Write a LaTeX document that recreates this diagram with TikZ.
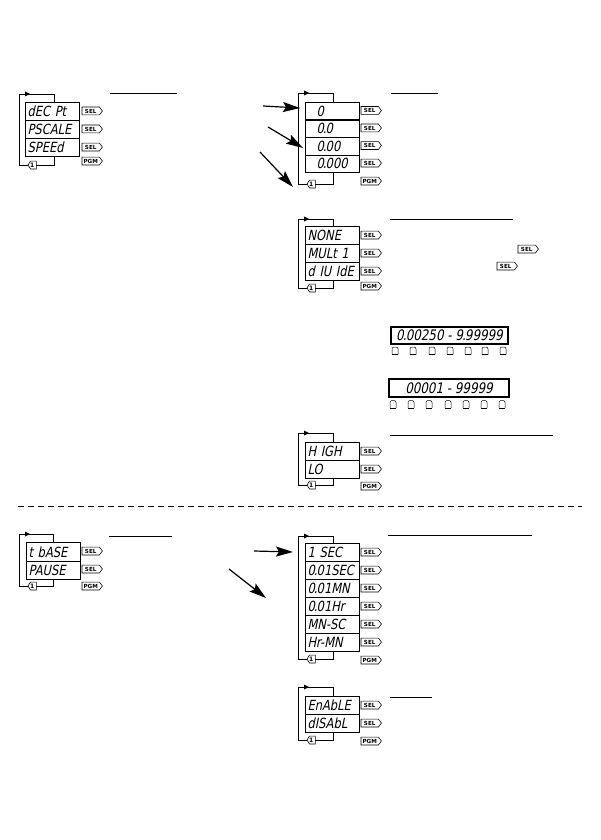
\documentclass[tikz,border=0pt]{standalone}
\usepackage{fontspec}
\usetikzlibrary{arrows.meta}
\newfontfamily\segfont{DejaVu Sans}[FakeSlant=0.2,FakeStretch=0.82]
\newfontfamily\tagfont{DejaVu Sans}
\newcommand\dpt{\kern-0.9pt.\kern-0.9pt}
\tikzset{
  disprow/.style={draw, line width=1.1pt, anchor=north west, minimum height=#1,
    text width=50pt, inner xsep=2pt, inner ysep=0pt, align=left,
    font=\segfont\fontsize{14}{15}\selectfont},
  disprow/.default=18pt,
  numdisp/.style={draw, line width=1.1pt, inner sep=0pt,
    font=\segfont\fontsize{14.5}{16}\selectfont},
  seltagstyle/.style={inner sep=0pt, minimum width=17pt, minimum height=7.5pt, anchor=west,
    font=\tagfont\bfseries\fontsize{5.6}{6}\selectfont},
  onetagstyle/.style={inner sep=0pt, minimum width=8pt, minimum height=7.5pt, anchor=west,
    font=\tagfont\bfseries\fontsize{6}{6}\selectfont},
  tagline/.style={draw, line width=0.6pt},
  loopline/.style={line width=0.9pt},
  titleline/.style={line width=0.9pt},
  bigarrow/.style={line width=1.2pt, -{Stealth[length=17pt,width=10pt,inset=3pt]}},
  btn/.style={line width=0.5pt}
}
\newcommand\SelTag[4]{%
  \node[seltagstyle] (#1) at (#2,#3) {#4};
  \draw[tagline] (#1.north west) -- (#1.north east) -- ([xshift=3pt]#1.east) -- (#1.south east) -- (#1.south west) -- cycle;}
\newcommand\MenuLoop[7]{% prefix, lx, rx, topy, boxtop, boxbot, boty
  \node[onetagstyle] (#1one) at (#2+9,#7) {1};
  \draw[tagline] (#1one.north east) -- ([xshift=2.5pt]#1one.north west) -- (#1one.west) -- ([xshift=2.5pt]#1one.south west) -- (#1one.south east) -- cycle;
  \draw[loopline] (#1one.west) -- (#2,#7) -- (#2,#4) -- (#3,#4) -- (#3,#5);
  \draw[loopline] (#3,#6) -- (#3,#7) -- (#1one.east);
  \fill (#2+6,#4-2.5) -- (#2+11,#4) -- (#2+6,#4+2.5) -- cycle;}
\newcommand\Btn[2]{%
  \draw[btn, rounded corners=2pt] (#1-3,#2+7.5) -- (#1-3,#2) -- (#1+3,#2) -- (#1+3,#2+7.5);
  \draw[btn] (#1-3,#2+7.5) -- (#1+3,#2+7.5);}
\begin{document}
\begin{tikzpicture}[x=1pt,y=-1pt]
\useasboundingbox (0,0) rectangle (600,840);
\fill[white] (0,0) rectangle (600,840);

% ---------- top-left menu ----------
\MenuLoop{tl}{19}{54}{94}{102}{156}{165}
\node[disprow] (tl1) at (25,102) {dEC Pt};
\node[disprow] (tl2) at (25,120) {PSCALE};
\node[disprow] (tl3) at (25,138) {SPEEd};
\SelTag{tls1}{82}{111}{SEL}
\SelTag{tls2}{82}{129}{SEL}
\SelTag{tls3}{82}{147}{SEL}
\SelTag{tlp}{82}{161}{PGM}
\coordinate (tlt1) at (110,93); \coordinate (tlt2) at (177,93);
\draw[titleline] (tlt1) -- (tlt2);

% ---------- decimal point menu ----------
\MenuLoop{tr}{298}{333}{93}{102}{172}{184}
\node[disprow=17.5pt] (tr1) at (305,102) {\hspace{9pt}0};
\node[disprow=17.5pt] (tr2) at (305,119.5) {\hspace{9pt}0\dpt0};
\node[disprow=17.5pt] (tr3) at (305,137) {\hspace{9pt}0\dpt00};
\node[disprow=17.5pt] (tr4) at (305,154.5) {\hspace{9pt}0\dpt000};
\SelTag{trs1}{361}{110.5}{SEL}
\SelTag{trs2}{361}{128}{SEL}
\SelTag{trs3}{361}{145.5}{SEL}
\SelTag{trs4}{361}{163}{SEL}
\SelTag{trp}{361}{181}{PGM}
\coordinate (trt1) at (391,93); \coordinate (trt2) at (438,93);
\draw[titleline] (trt1) -- (trt2);
\coordinate (a1s) at (263,106); \coordinate (a1e) at (300,108);
\coordinate (a2s) at (268,127); \coordinate (a2e) at (303,148);
\coordinate (a3s) at (260,152); \coordinate (a3e) at (293,187);
\draw[bigarrow] (a1s) -- (a1e);
\draw[bigarrow] (a2s) -- (a2e);
\draw[bigarrow] (a3s) -- (a3e);

% ---------- scaling menu ----------
\MenuLoop{md}{298}{333}{219}{226}{280}{288}
\node[disprow] (md1) at (305,226) {NONE};
\node[disprow] (md2) at (305,244) {MULt 1};
\node[disprow] (md3) at (305,262) {d IU IdE};
\SelTag{mds1}{361}{235}{SEL}
\SelTag{mds2}{361}{253}{SEL}
\SelTag{mds3}{361}{271}{SEL}
\SelTag{mdp}{361}{286}{PGM}
\coordinate (mdt1) at (390,219); \coordinate (mdt2) at (513,219);
\draw[titleline] (mdt1) -- (mdt2);
\SelTag{mdf1}{518}{249}{SEL}
\SelTag{mdf2}{497}{266}{SEL}

% ---------- numeric displays ----------
\node[numdisp, minimum width=117pt, minimum height=17pt] (nd1) at (449.5,335.5) {0\dpt00250 - 9\dpt99999};
\foreach \bx in {395,413,432,450,468,485,503} {\Btn{\bx}{347}}
\node[numdisp, minimum width=120pt, minimum height=18pt] (nd2) at (449,388) {00001 - 99999};
\foreach \bx in {393,411,429,448,466,484,502} {\Btn{\bx}{400.5}}

% ---------- high / lo menu ----------
\MenuLoop{hl}{298}{333}{433}{442}{478}{485}
\node[disprow] (hl1) at (305,442) {H IGH};
\node[disprow] (hl2) at (305,460) {LO};
\SelTag{hls1}{361}{451}{SEL}
\SelTag{hls2}{361}{469}{SEL}
\SelTag{hlp}{361}{486}{PGM}
\coordinate (hlt1) at (390,435); \coordinate (hlt2) at (553,435);
\draw[titleline] (hlt1) -- (hlt2);

% ---------- separator ----------
\coordinate (ds1) at (18,506); \coordinate (ds2) at (582,506);
\draw[line width=0.8pt, dash pattern=on 6pt off 4pt] (ds1) -- (ds2);

% ---------- bottom-left menu ----------
\MenuLoop{bl}{19}{53}{534}{542}{579}{586}
\node[disprow=18.5pt] (bl1) at (26,542) {t bASE};
\node[disprow=18.5pt] (bl2) at (26,560.5) {PAUSE};
\SelTag{bls1}{82}{551}{SEL}
\SelTag{bls2}{82}{569}{SEL}
\SelTag{blp}{82}{586}{PGM}
\coordinate (blt1) at (109,536); \coordinate (blt2) at (172,536);
\draw[titleline] (blt1) -- (blt2);

% ---------- time base menu ----------
\MenuLoop{br}{298}{333}{536}{543}{651}{659}
\node[disprow] (br1) at (305,543) {1 SEC};
\node[disprow] (br2) at (305,561) {0\dpt01SEC};
\node[disprow] (br3) at (305,579) {0\dpt01MN};
\node[disprow] (br4) at (305,597) {0\dpt01Hr};
\node[disprow] (br5) at (305,615) {MN-SC};
\node[disprow] (br6) at (305,633) {Hr-MN};
\SelTag{brs1}{361}{552}{SEL}
\SelTag{brs2}{361}{570}{SEL}
\SelTag{brs3}{361}{588}{SEL}
\SelTag{brs4}{361}{606}{SEL}
\SelTag{brs5}{361}{624}{SEL}
\SelTag{brs6}{361}{642}{SEL}
\SelTag{brp}{361}{660}{PGM}
\coordinate (brt1) at (388,535); \coordinate (brt2) at (532,535);
\draw[titleline] (brt1) -- (brt2);
\coordinate (b1s) at (254,551); \coordinate (b1e) at (293,552);
\coordinate (b2s) at (229,569); \coordinate (b2e) at (266,598);
\draw[bigarrow] (b1s) -- (b1e);
\draw[bigarrow] (b2s) -- (b2e);

% ---------- enable menu ----------
\MenuLoop{en}{298}{333}{687}{696}{732}{740}
\node[disprow] (en1) at (305,696) {EnAbLE};
\node[disprow] (en2) at (305,714) {dISAbL};
\SelTag{ens1}{361}{705}{SEL}
\SelTag{ens2}{361}{723}{SEL}
\SelTag{enp}{361}{741}{PGM}
\coordinate (ent1) at (390,697); \coordinate (ent2) at (432,697);
\draw[titleline] (ent1) -- (ent2);
\end{tikzpicture}
\end{document}
